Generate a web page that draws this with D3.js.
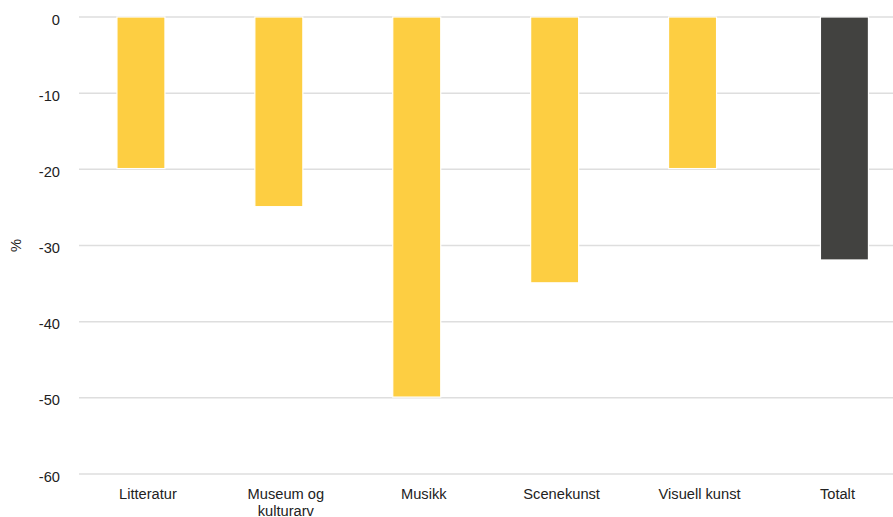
<!DOCTYPE html>
<html>
<head>
<meta charset="utf-8">
<script src="https://cdn.jsdelivr.net/npm/d3@7"></script>
<style>
  html, body { margin: 0; padding: 0; background: #fff; }
  svg { display: block; }
  text { font-family: "Liberation Sans", Arial, sans-serif; fill: #222; }
</style>
</head>
<body>
<svg id="chart" width="893" height="517"></svg>
<script>
const categories = ["Litteratur", "Museum og kulturarv", "Musikk", "Scenekunst", "Visuell kunst", "Totalt"];
const seriesNames = ["Område", "Totalt"];
const areaValues = [-19.9, -24.9, -49.9, -34.9, -19.9, null];
const totalValues = [null, null, null, null, null, -31.9];
const yTicks = [0, -10, -20, -30, -40, -50, -60];
const yTitle = "%";
const colors = { "Område": "#FDCE42", "Totalt": "#424240" };

(function () {
const svg = d3.select("#chart");
const mLeft = 79, mTop = 17, mBottom = 474;
const step = 137.9;
const x = d3.scaleBand().domain(categories).range([mLeft, mLeft + step * categories.length]).paddingInner(0).paddingOuter(0);
const xs = d3.scalePoint().domain(seriesNames).range([-7, 7]);
const barW = 48;
const y = d3.scaleLinear().domain([0, -60]).range([mTop, mBottom]);

// gridlines
svg.append("g").selectAll("line").data(yTicks).join("line")
  .attr("x1", mLeft).attr("x2", 893)
  .attr("y1", d => y(d)).attr("y2", d => y(d))
  .attr("stroke", "#dedede").attr("stroke-width", 1.5);

// y tick labels
svg.append("g").selectAll("text").data(yTicks).join("text")
  .attr("x", 60).attr("y", d => y(d) + 2.5).attr("dy", "0.35em")
  .attr("text-anchor", "end").style("font-size", "14.67px")
  .text(d => d);

// y title
svg.append("text")
  .attr("transform", `translate(21,${(mTop + mBottom) / 2}) rotate(-90)`)
  .attr("text-anchor", "middle").style("font-size", "14.67px")
  .text(yTitle);

// bars
const rows = [];
categories.forEach((c, i) => {
  if (areaValues[i] != null) rows.push({ c, s: "Område", v: areaValues[i] });
  if (totalValues[i] != null) rows.push({ c, s: "Totalt", v: totalValues[i] });
});
svg.append("g").selectAll("rect").data(rows).join("rect")
  .attr("x", d => x(d.c) + x.bandwidth() / 2 + xs(d.s) - barW / 2)
  .attr("width", barW)
  .attr("y", y(0))
  .attr("height", d => y(d.v) - y(0))
  .attr("fill", d => colors[d.s])
  .attr("stroke", "#fff").attr("stroke-width", 1.2);

// category labels with wrapping
const lab = svg.append("g").selectAll("text").data(categories).join("text")
  .attr("text-anchor", "middle").style("font-size", "14.67px")
  .attr("x", d => x(d) + x.bandwidth() / 2)
  .attr("y", 499);
lab.each(function (d) {
  const t = d3.select(this);
  const words = d.split(" ");
  let line = [], lines = [];
  const tmp = t.append("tspan");
  words.forEach(w => {
    line.push(w);
    tmp.text(line.join(" "));
    if (tmp.node().getComputedTextLength() > 110 && line.length > 1) {
      line.pop();
      lines.push(line.join(" "));
      line = [w];
    }
  });
  lines.push(line.join(" "));
  tmp.remove();
  lines.forEach((l, i) => {
    t.append("tspan").attr("x", x(d) + x.bandwidth() / 2).attr("dy", i === 0 ? 0 : 17).text(l);
  });
});
})();
</script>
</body>
</html>
